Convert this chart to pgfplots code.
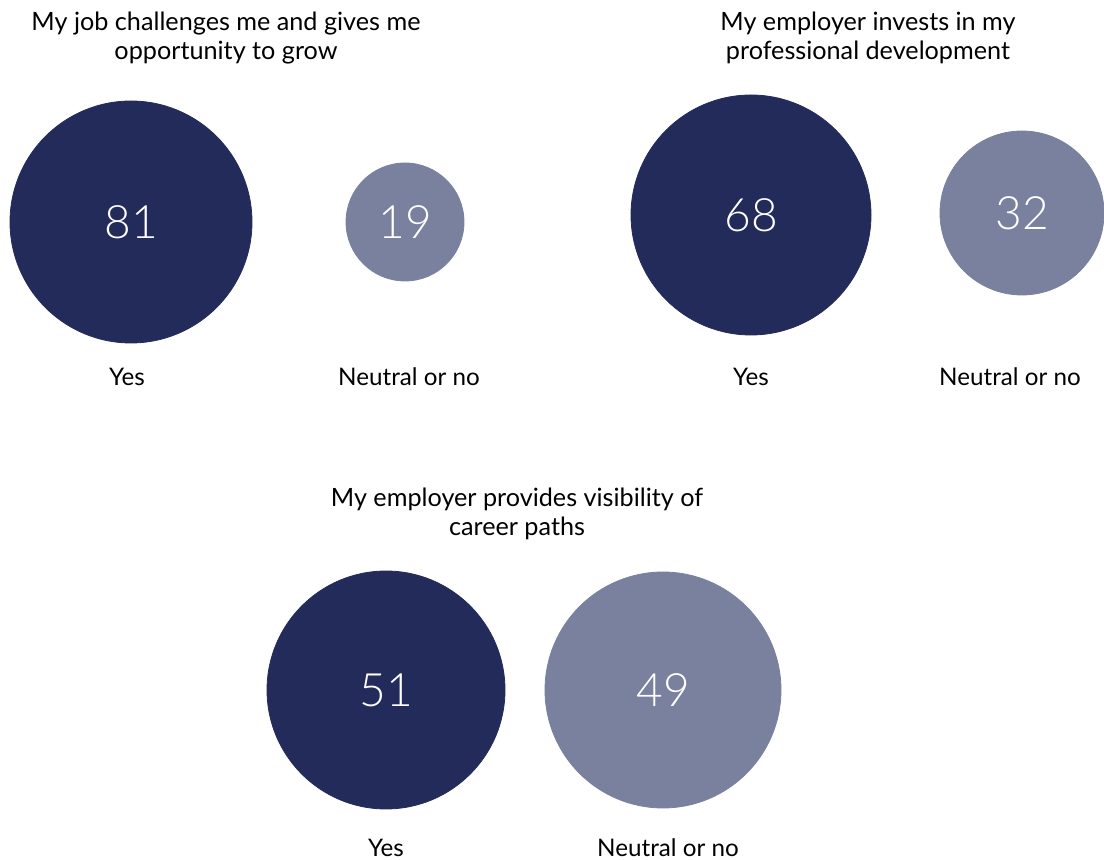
\documentclass[border=0pt]{standalone}
\usepackage{fontspec}
\setmainfont{Lato}
\newfontfamily\lightfont{Lato Light}
\usepackage{pgfplots}
\pgfplotsset{compat=1.18}
\definecolor{darknavy}{HTML}{232B5B}
\definecolor{lightnavy}{HTML}{7A819E}
\begin{document}
\begin{tikzpicture}
\begin{axis}[name=ax, scale only axis, width=552pt, height=430pt,
  xmin=0, xmax=1104, ymin=0, ymax=860, y dir=reverse,
  hide axis, clip=false,
  /pgf/number format/assume math mode=true,
  circ/.style 2 args={only marks, mark=*, mark size=#2,
    mark options={draw=#1, fill=#1},
    point meta=explicit,
    nodes near coords,
    nodes near coords style={anchor=center, text=white, font=\lightfont\fontsize{23}{23}\selectfont}},
]
% (x, y) [value]; radius in pt = half the pixel radius
\addplot[circ={darknavy}{60.5pt}]  coordinates {(131,222) [81]};
\addplot[circ={lightnavy}{29.5pt}] coordinates {(405,222) [19]};
\addplot[circ={darknavy}{60pt}]    coordinates {(751,215) [68]};
\addplot[circ={lightnavy}{41pt}]   coordinates {(1022,213) [32]};
\addplot[circ={darknavy}{59.5pt}]  coordinates {(386,690) [51]};
\addplot[circ={lightnavy}{59pt}]   coordinates {(663,690) [49]};
\tikzset{ttl/.style={align=center, font=\fontsize{12.6}{14.2}\selectfont}, lab/.style={font=\fontsize{12.1}{13}\selectfont}}
\node[ttl] at (axis cs:226,38) {My job challenges me and gives me\\opportunity to grow};
\node[ttl] at (axis cs:868,38) {My employer invests in my\\professional development};
\node[ttl] at (axis cs:517,514) {My employer provides visibility of\\career paths};
\node[lab] at (axis cs:127,377) {Yes};
\node[lab] at (axis cs:409,377) {Neutral or no};
\node[lab] at (axis cs:751,377) {Yes};
\node[lab] at (axis cs:1010,377) {Neutral or no};
\node[lab] at (axis cs:386,848) {Yes};
\node[lab] at (axis cs:668,848) {Neutral or no};
\end{axis}
\pgfresetboundingbox
\path[use as bounding box] (ax.south west) rectangle (ax.north east);
\end{tikzpicture}
\end{document}
